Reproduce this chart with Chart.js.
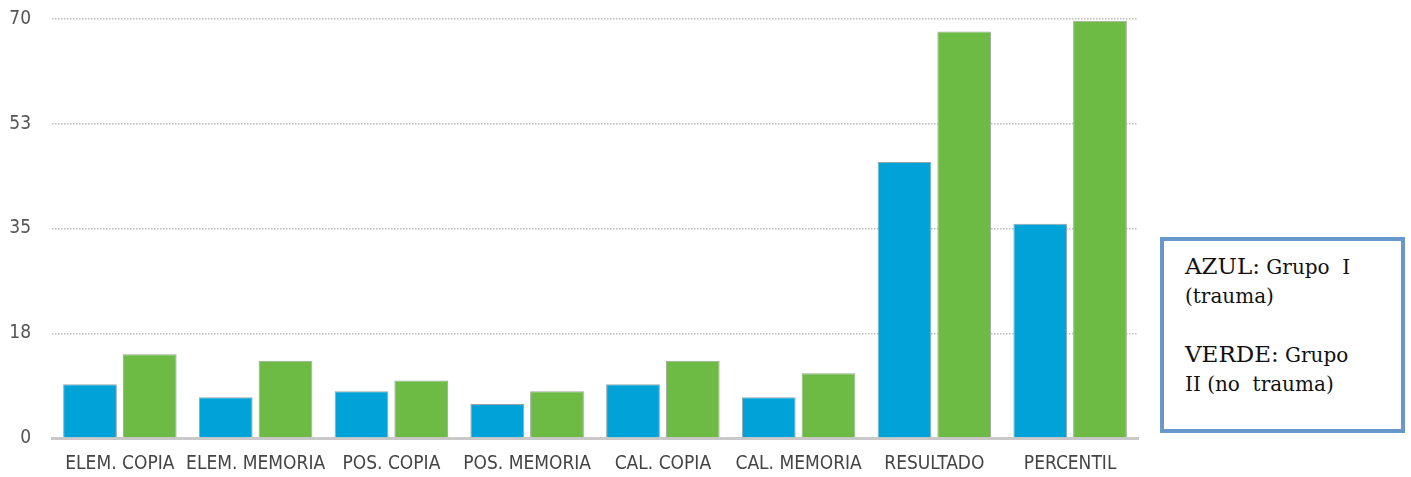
<!DOCTYPE html>
<html>
<head>
<meta charset="utf-8">
<script src="https://cdn.jsdelivr.net/npm/chart.js@4.4.1/dist/chart.umd.min.js"></script>
<style>
    html, body { margin: 0; padding: 0; background: #fff; }
    #wrap { position: absolute; left: 0; top: 0; width: 1140px; height: 477px; }
    #note {
        position: absolute; left: 1160px; top: 237px; width: 245px; height: 196px;
        box-sizing: border-box; border: 4px solid #6797cb;
        font-family: 'DejaVu Serif', 'Liberation Serif', serif; color: #111;
        padding: 11px 0 0 21px; line-height: 29px; font-size: 20px;
    }
    #note b { font-weight: normal; font-size: 23px; }
</style>
</head>
<body>
<div id="wrap"><canvas id="chart"></canvas></div>
<div id="note">
    <b>AZUL:</b> Grupo&nbsp; I<br>(trauma)<br><br>
    <b>VERDE:</b> Grupo<br>II (no&nbsp; trauma)
</div>
<script>
// Categories and values for the two groups
const categories = ['ELEM. COPIA', 'ELEM. MEMORIA', 'POS. COPIA', 'POS. MEMORIA',
    'CAL. COPIA', 'CAL. MEMORIA', 'RESULTADO', 'PERCENTIL'];
const grupoI = [9.0, 6.8, 7.8, 5.7, 9.0, 6.8, 46.1, 35.8];
const grupoII = [14.0, 12.9, 9.6, 7.8, 12.9, 10.8, 67.9, 69.7];

// Y axis ticks (quarters of 70) and their printed labels
const yTicks = [0, 17.5, 35, 52.5, 70];
const yTickLabels = ['0', '18', '35', '53', '70'];

const labelFont = { family: "'DejaVu Sans Condensed', 'Liberation Sans Narrow', 'Arial Narrow', sans-serif", size: 19 };

new Chart(document.getElementById('chart'), {
    type: 'bar',
    data: {
        labels: categories,
        datasets: [{
            label: 'Grupo I',
            data: grupoI,
            backgroundColor: '#00a3d8',
            borderColor: '#9aa4a8',
            borderWidth: 1,
            borderSkipped: 'bottom'
        }, {
            label: 'Grupo II',
            data: grupoII,
            backgroundColor: '#6dbb45',
            borderColor: '#9aa89a',
            borderWidth: 1,
            borderSkipped: 'bottom'
        }]
    },
    options: {
        responsive: true,
        maintainAspectRatio: false,
        animation: false,
        categoryPercentage: 0.88,
        barPercentage: 0.9,
        layout: { padding: { top: 19, right: 2, bottom: 2, left: 0 } },
        plugins: {
            legend: { display: false },
            tooltip: { enabled: false }
        },
        scales: {
            x: {
                afterFit: (scale) => { scale.height = 37; },
                grid: { display: false, drawTicks: false },
                border: { display: true, color: '#c9c9c9', width: 3 },
                ticks: { color: '#454545', font: labelFont, padding: 15, maxRotation: 0, autoSkip: false }
            },
            y: {
                min: 0,
                max: 70,
                afterBuildTicks: (scale) => {
                    scale.ticks = yTicks.map(v => ({ value: v }));
                },
                afterFit: (scale) => { scale.width = 52; },
                grid: {
                    color: (ctx) => ctx.tick && ctx.tick.value === 0 ? 'rgba(0,0,0,0)' : '#bcbcbc',
                    lineWidth: 1.5,
                    drawTicks: true,
                    tickLength: 21,
                    tickColor: 'rgba(0,0,0,0)'
                },
                border: { display: false, dash: [1.5, 1.5] },
                ticks: {
                    color: '#555',
                    font: labelFont,
                    padding: 0,
                    callback: (value) => yTickLabels[yTicks.indexOf(value)]
                }
            }
        }
    }
});
</script>
</body>
</html>
